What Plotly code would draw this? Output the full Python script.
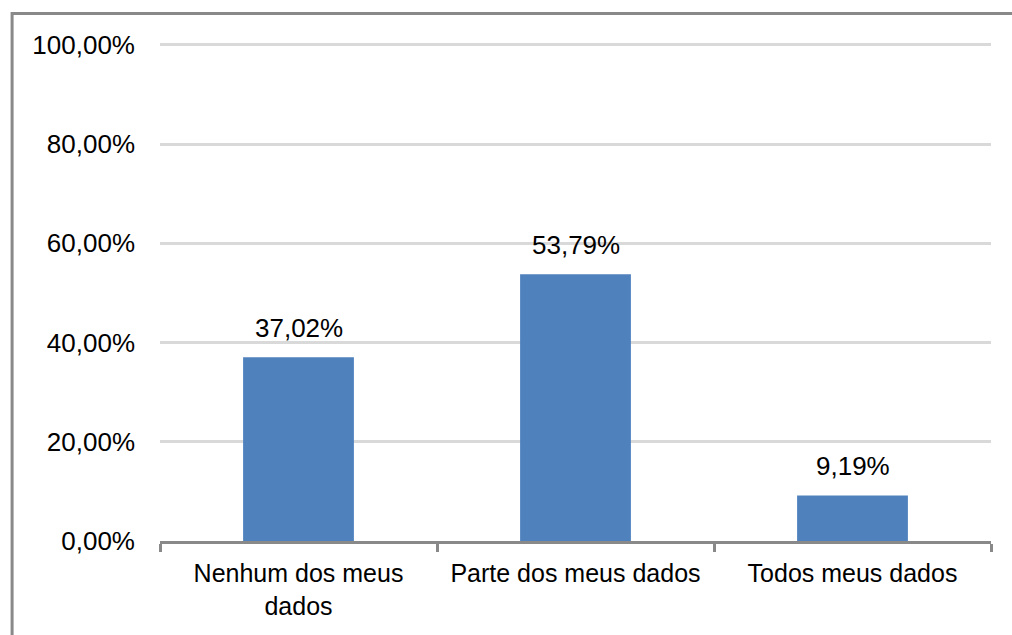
import plotly.graph_objects as go

categories = ["Nenhum dos meus<br>dados", "Parte dos meus dados", "Todos meus dados"]
values = [0.3702, 0.5379, 0.0919]
y_ticks = [0, 0.2, 0.4, 0.6, 0.8, 1.0]

BAR_COLOR = "#4F81BD"
GRID = "#D9D9D9"
AXIS = "#898989"
FONT = "Liberation Sans, Arial, sans-serif"

fig = go.Figure(go.Bar(
    x=categories,
    y=values,
    marker=dict(color=BAR_COLOR, line=dict(width=0)),
    hoverinfo="skip",
))

# value labels sit a bit higher above the bars than plotly's own outside text
for cat, val in zip(categories, values):
    fig.add_annotation(
        x=cat, y=val,
        text=f"{val * 100:.2f}%".replace(".", ","),
        showarrow=False,
        yanchor="bottom",
        yshift=12,
        font=dict(family=FONT, size=26, color="black"),
    )

# outer chart border (right/bottom edges fall outside the picture)
fig.add_shape(
    type="rect", xref="paper", yref="paper",
    x0=(11.5 - 159.5) / 831.5, x1=1.2,
    y0=-0.3, y1=1 + (42 - 13.5) / 499,
    line=dict(color=AXIS, width=3),
    fillcolor="rgba(0,0,0,0)",
    layer="above",
)

fig.update_layout(
    width=1012, height=635,
    margin=dict(l=159.5, r=21, t=42, b=94),
    paper_bgcolor="white",
    plot_bgcolor="white",
    separators=",.",
    bargap=0.6,
    showlegend=False,
    font=dict(family=FONT, size=26, color="black"),
    xaxis=dict(
        showline=True, linecolor=AXIS, linewidth=3,
        ticks="outside", tickson="boundaries", ticklen=8,
        tickwidth=3, tickcolor=AXIS,
        showgrid=False,
        ticklabelstandoff=8,
        tickfont=dict(family=FONT, size=25, color="black"),
    ),
    yaxis=dict(
        # small headroom so plotly keeps the 100% gridline
        range=[0, 1.006],
        tickvals=y_ticks,
        tickformat=".2%",
        showgrid=True, gridcolor=GRID, gridwidth=3,
        zeroline=False, showline=False, ticks="",
        ticklabelstandoff=24,
        tickfont=dict(family=FONT, size=26, color="black"),
    ),
)

fig.write_html(
    "out.html",
    config={"displayModeBar": False},
    post_script="document.body.style.margin='0';",
)
